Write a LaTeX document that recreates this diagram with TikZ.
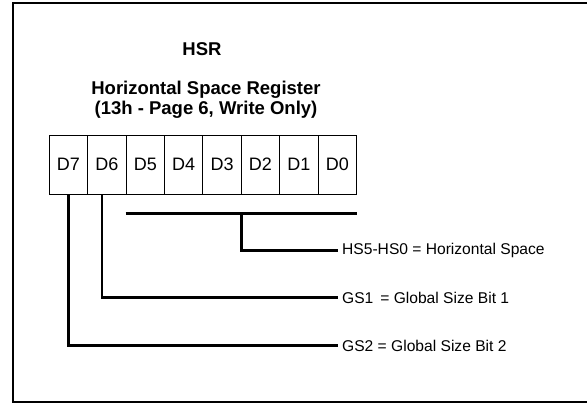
\documentclass[tikz,border=0pt]{standalone}
\usepackage{fontspec}
\setmainfont{Liberation Sans}
\definecolor{RegisterInk}{HTML}{000000}
\usetikzlibrary{positioning}

\tikzset{
  bitcell/.style={draw=RegisterInk, line width=0.9pt, minimum width=38.4pt,
    minimum height=59pt, inner sep=0pt, font=\fontsize{18}{19}\selectfont},
  fieldwire/.style={draw=RegisterInk, line width=2.6pt},
  fieldlabel/.style={anchor=west, inner sep=4pt, font=\fontsize{15.6}{17}\selectfont},
  titletext/.style={inner sep=0pt, align=center,
    font=\fontsize{18.5}{19.5}\selectfont\bfseries}
}

\begin{document}
\begin{tikzpicture}[x=1pt, y=-1pt]
  \useasboundingbox (0,0) rectangle (587,405);
  % outer frame, open on the right
  \draw[line width=2pt] (587,3.3) -- (13,3.3) -- (13,401.7) -- (587,401.7);

  % titles
  \node[titletext] (hsr) at (202,48.7) {HSR};
  \node[titletext] (title) at (206,99.7)
    {Horizontal Space Register\\(13h - Page 6, Write Only)};

  % register bits
  \foreach \b [count=\i from 0] in {7,6,5,4,3,2,1,0}
    \node[bitcell] (d\b) at (68.5+\i*38.4,164.5) {D\b};

  % field labels
  \node[fieldlabel] (hs) at (338,250.5) {HS5-HS0 = Horizontal Space};
  \node[fieldlabel] (gsone) at (338,297.7) {GS1\, = Global Size Bit 1};
  \node[fieldlabel] (gstwo) at (338,345.7) {GS2 = Global Size Bit 2};

  % connectors
  \coordinate (brk) at (242,213.3);
  \draw[fieldwire] (d5.south west |- brk) -- (d0.south east |- brk);
  \draw[fieldwire] (d3.south east |- brk) |- (hs.west);
  \draw[fieldwire] ([xshift=-5pt]d6.south) |- (gsone.west);
  \draw[fieldwire] (d7.south) |- (gstwo.west);
\end{tikzpicture}
\end{document}
